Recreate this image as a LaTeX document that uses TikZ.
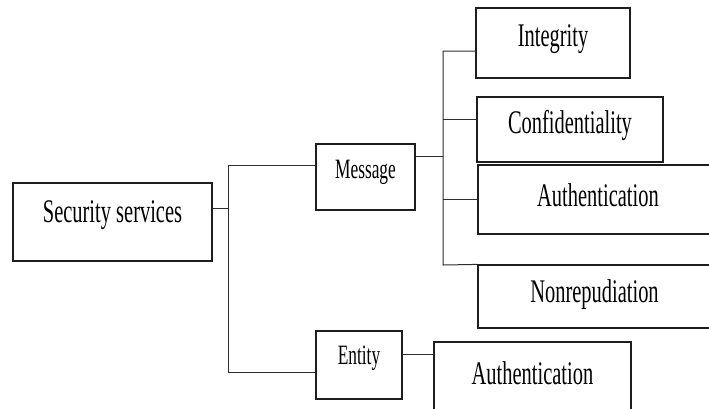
\documentclass[tikz,border=0pt]{standalone}
\usepackage{fontspec}
\setmainfont[FakeStretch=0.62]{Liberation Serif}
\usetikzlibrary{positioning, calc}
\definecolor{cLine}{RGB}{30,30,30}
\definecolor{cWire}{RGB}{45,45,45}
\tikzset{
	svcbox/.style  ={rectangle, draw=cLine, line width=1.2pt, inner sep=0pt, align=center, text height=23pt, text depth=16pt, font=\fontsize{33}{38}\selectfont},
	smallbox/.style={svcbox, text height=20pt, text depth=17pt, font=\fontsize{28}{33}\selectfont},
	wire/.style    ={draw=cWire, line width=1pt},
}

\begin{document}
\begin{tikzpicture}[x=1pt, y=-1pt]
	\clip (0,0) rectangle (709,408);
	\fill[white] (0,0) rectangle (709,408);
	% boxes
	\node[svcbox, minimum width=199pt, minimum height=78pt, text depth=22pt] (sec) at (112.5,222) {Security services};
	\node[smallbox, minimum width=99pt, minimum height=66pt] (msg) at (365.5,177) {Message};
	\node[smallbox, minimum width=86pt, minimum height=68pt, text depth=21pt] (ent) at (359,365) {Entity};
	\node[svcbox, minimum width=154pt, minimum height=70pt] (integ) at (553,43) {Integrity};
	\node[svcbox, minimum width=186pt, minimum height=65pt] (conf) at (570,129.5) {Confidentiality};
	\node[svcbox, minimum width=240pt, minimum height=69pt, text depth=9pt] (mauth) at (598,199.5) {Authentication};
	\node[svcbox, minimum width=233pt, minimum height=63pt, text depth=11pt] (nonrep) at (594.5,296.5) {Nonrepudiation};
	\node[svcbox, minimum width=197pt, minimum height=70pt, text depth=9pt] (eauth) at (532.5,377) {Authentication};
	% bus points
	\coordinate (sbus) at (228,208);
	\coordinate (mtop) at (228,165);
	\coordinate (mbot) at (228,372);
	\coordinate (mbus) at (443,156);
	\coordinate (btop) at (443,51);
	\coordinate (bconf) at (443,119);
	\coordinate (bbot) at (443,265);
	\coordinate (elink) at (418,354);
	% connectors
	\draw[wire] (sec.east |- sbus) -- (sbus);
	\draw[wire] (msg.west |- mtop) -- (mtop) -- (mbot) -- (ent.west |- mbot);
	\draw[wire] (msg.east |- mbus) -- (mbus);
	\draw[wire] (integ.west |- btop) -- (btop) -- (bbot) -- (nonrep.north west);
	\draw[wire] (bconf) -- (conf.west |- bconf);
	\draw[wire] (bbot |- mauth.west) -- (mauth.west);
	\draw[wire] (ent.east |- elink) -- (eauth.west |- elink);
\end{tikzpicture}
\end{document}
